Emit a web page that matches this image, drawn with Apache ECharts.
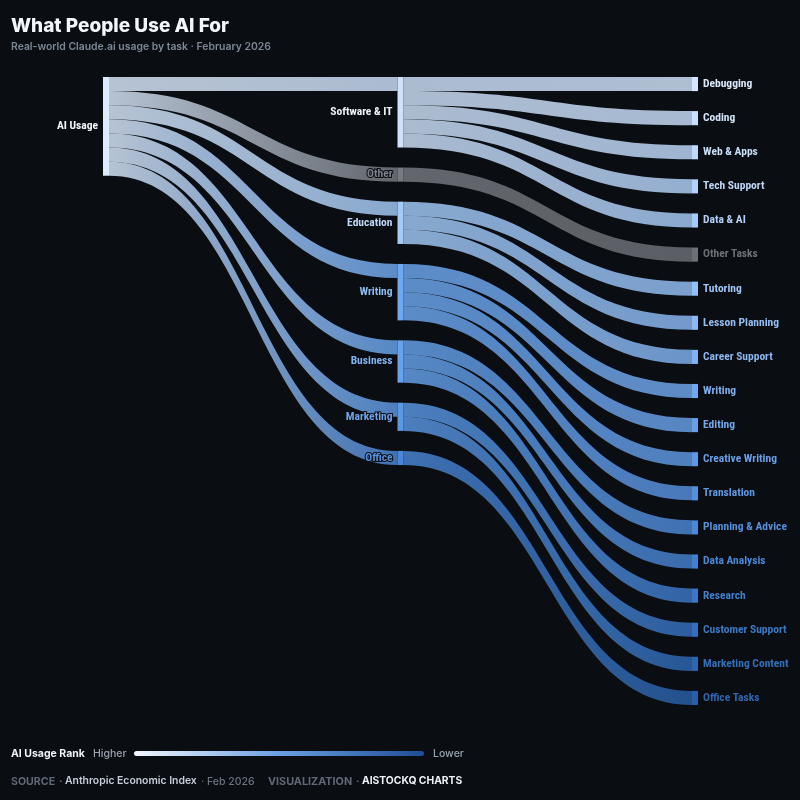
<!DOCTYPE html>
<html>
<head>
<meta charset="utf-8">
<script src="https://cdn.jsdelivr.net/npm/echarts@6/dist/echarts.min.js"></script>
<style>
html,body{margin:0;padding:0;background:#0a0d12;}
#chart{width:800px;height:800px;}
</style>
</head>
<body>
<div id="chart"></div>
<script>
// ---- data ----
const rootName = 'AI Usage';
const categories = ['Software & IT', 'Other', 'Education', 'Writing', 'Business', 'Marketing', 'Office'];
const categoryValues = [1, 1, 1, 1, 1, 1, 1];
const tasks = ['Debugging', 'Coding', 'Web & Apps', 'Tech Support', 'Data & AI', 'Other Tasks',
  'Tutoring', 'Lesson Planning', 'Career Support', 'Writing ', 'Editing', 'Creative Writing',
  'Translation', 'Planning & Advice', 'Data Analysis', 'Research', 'Customer Support',
  'Marketing Content', 'Office Tasks'];
const taskLabels = ['Debugging', 'Coding', 'Web & Apps', 'Tech Support', 'Data & AI', 'Other Tasks',
  'Tutoring', 'Lesson Planning', 'Career Support', 'Writing', 'Editing', 'Creative Writing',
  'Translation', 'Planning & Advice', 'Data Analysis', 'Research', 'Customer Support',
  'Marketing Content', 'Office Tasks'];
const taskParents = ['Software & IT', 'Software & IT', 'Software & IT', 'Software & IT', 'Software & IT',
  'Other', 'Education', 'Education', 'Education', 'Writing', 'Writing', 'Writing', 'Writing',
  'Business', 'Business', 'Business', 'Marketing', 'Marketing', 'Office'];
const taskValues = [1, 1, 1, 1, 1, 1, 1, 1, 1, 1, 1, 1, 1, 1, 1, 1, 1, 1, 1];

// ---- styles ----
const rootColor = '#dcebfe';
const categoryColors = ['#cfe2fa', '#767a81', '#a4cbf8', '#6ea8f0', '#67a3ec', '#5b98e4', '#4a87d6'];
const categoryLabelColors = ['#eef3fa', '#7c8088', '#bcd7f6', '#8ebcf2', '#80b2ee', '#6fa3e6', '#5a90da'];
const taskColors = ['#d3e6fd', '#c9e0fc', '#bfd9fb', '#b2d2fa', '#a6cbf8', '#6c7077',
  '#94c0f6', '#8ab9f4', '#80b2f1', '#71a7ec', '#68a0e8', '#5f98e3', '#5690dd', '#4c88d6',
  '#4480cf', '#3b77c6', '#3470bd', '#2d67b2', '#2860a8'];
const taskLabelColors = ['#dbe8f8', '#d2e3f7', '#c8ddf6', '#bcd6f5', '#b0cff3', '#6c7179',
  '#9ec4f2', '#94bef1', '#8ab6ef', '#7eaeec', '#74a7e9', '#6a9fe5', '#6098e0', '#568fda',
  '#4c87d3', '#447fcb', '#3c77c2', '#356fb8', '#2f66ad'];

const labelFont = '"Roboto Condensed", "Liberation Sans Narrow", "Roboto", sans-serif';
const bg = '#0a0d12';

const nodes = [];
nodes.push({
  name: rootName, depth: 0,
  itemStyle: { color: rootColor },
  label: { position: 'left', color: '#f2f5f9' }
});
categories.forEach((c, i) => nodes.push({
  name: c, depth: 1,
  itemStyle: { color: categoryColors[i] },
  label: { position: 'left', color: categoryLabelColors[i] }
}));
tasks.forEach((t, i) => nodes.push({
  name: t, depth: 2,
  itemStyle: { color: taskColors[i] },
  label: { position: 'right', color: taskLabelColors[i], formatter: taskLabels[i] }
}));

const links = [];
categories.forEach((c, i) => links.push({ source: rootName, target: c, value: categoryValues[i] }));
tasks.forEach((t, i) => links.push({ source: taskParents[i], target: t, value: taskValues[i] }));

const chart = echarts.init(document.getElementById('chart'));
chart.setOption({
  backgroundColor: bg,
  animation: false,
  series: [{
    type: 'sankey',
    left: 103, right: 102, top: 77, bottom: 95,
    nodeWidth: 6,
    nodeGap: 20,
    layoutIterations: 0,
    draggable: false,
    emphasis: { disabled: true },
    data: nodes,
    links: links,
    itemStyle: { borderWidth: 0 },
    lineStyle: { color: 'gradient', opacity: 0.82, curveness: 0.5 },
    label: {
      fontFamily: labelFont, fontSize: 11.5, fontWeight: 'bold',
      distance: 5, textBorderColor: bg, textBorderWidth: 2
    }
  }],
  graphic: [
    { type: 'text', left: 11, top: 17, style: { text: 'What People Use AI For', fill: '#f3f6fa', font: '800 19px Inter', } },
    { type: 'text', left: 11, top: 42, style: { text: 'Real-world Claude.ai usage by task · February 2026', fill: '#7d8796', font: '600 10.4px Inter' } },
    { type: 'text', left: 11, top: 748, style: { text: 'AI Usage Rank', fill: '#eef2f7', font: 'bold 10.5px Inter' } },
    { type: 'text', left: 93, top: 748, style: { text: 'Higher', fill: '#9aa3ae', font: '500 10.5px Inter' } },
    { type: 'rect', shape: { x: 134, y: 751, width: 290, height: 5, r: 2.5 },
      style: { fill: new echarts.graphic.LinearGradient(0, 0, 1, 0, [
        { offset: 0, color: '#f2f7ff' }, { offset: 0.5, color: '#6b9fe2' }, { offset: 1, color: '#1d4d96' }]) } },
    { type: 'text', left: 433, top: 748, style: { text: 'Lower', fill: '#9aa3ae', font: '500 10.5px Inter' } },
    { type: 'text', left: 11, top: 776, style: { text: 'SOURCE', fill: '#5f6875', font: 'bold 10.6px Inter' } },
    { type: 'text', left: 59, top: 776, style: { text: '·', fill: '#5f6875', font: 'bold 10.5px Inter' } },
    { type: 'text', left: 65, top: 776, style: { text: 'Anthropic Economic Index', fill: '#c6ced9', font: '600 10.4px Inter' } },
    { type: 'text', left: 201, top: 776, style: { text: '· Feb 2026', fill: '#6b7480', font: '500 10.5px Inter' } },
    { type: 'text', left: 268, top: 776, style: { text: 'VISUALIZATION', fill: '#5f6875', font: 'bold 10.8px Inter' } },
    { type: 'text', left: 356, top: 776, style: { text: '·', fill: '#5f6875', font: 'bold 10.5px Inter' } },
    { type: 'text', left: 362, top: 776, style: { text: 'AISTOCKQ CHARTS', fill: '#eef2f7', font: 'bold 10.3px Inter' } }
  ]
});
</script>
</body>
</html>
